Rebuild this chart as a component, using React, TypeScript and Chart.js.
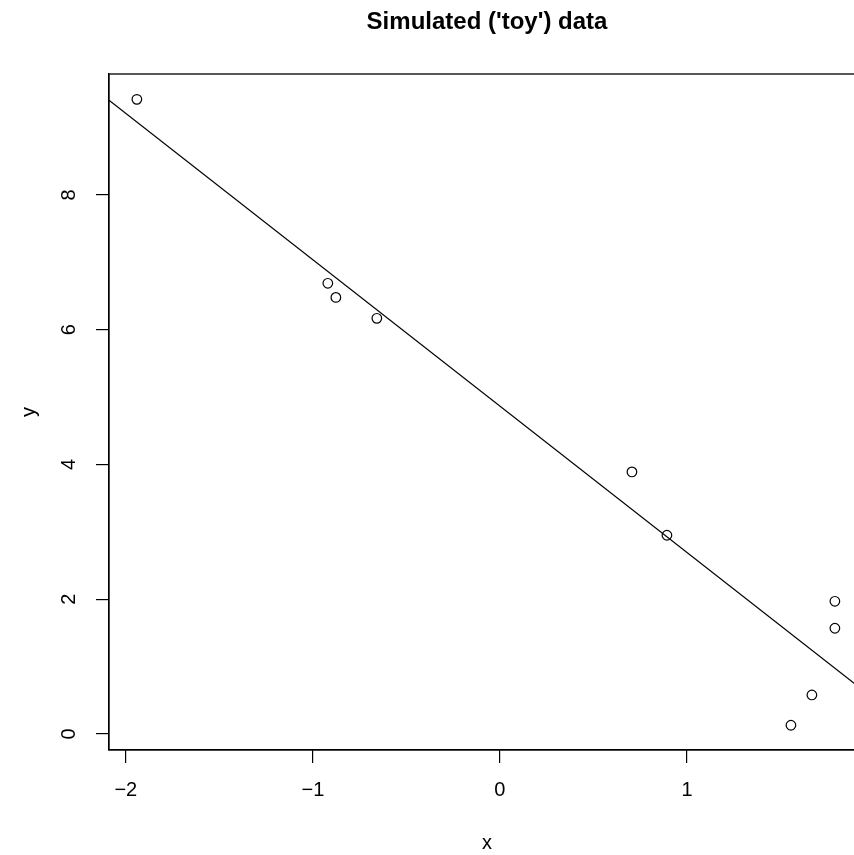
import { useEffect, useRef } from "react";
import { Chart, registerables } from "chart.js";

Chart.register(...registerables);

const xValues = [-1.941, -0.92, -0.877, -0.658, 0.706, 0.893, 1.791, 1.791, 1.668, 1.556];
const yValues = [9.42, 6.69, 6.48, 6.17, 3.89, 2.95, 1.97, 1.57, 0.58, 0.13];

// Fitted regression line y = intercept + slope * x
const intercept = 4.868;
const slope = -2.172;

// Tick values
const xTicks = [-2, -1, 0, 1];
const yTicks = [0, 2, 4, 6, 8];

// Axis ranges
const X_MIN = -2.09;
const X_MAX = 1.952;
const Y_MIN = -0.237;
const Y_MAX = 9.796;

const FAMILY = "'Liberation Sans', Arial, Helvetica, sans-serif";

const fmt = (v: number) => (v < 0 ? "\u2212" + Math.abs(v) : String(v));

export default function App() {
  const ref = useRef<HTMLCanvasElement>(null);

  useEffect(() => {
    const canvas = ref.current;
    if (!canvas) return;

    const points = xValues.map((x, i) => ({ x, y: yValues[i] }));
    const fitLine = [X_MIN, X_MAX].map((x) => ({ x, y: intercept + slope * x }));

    const boxPlugin = {
      id: "plotBox",
      afterDatasetsDraw(chart: any) {
        const { ctx, chartArea: a } = chart;
        ctx.save();
        ctx.strokeStyle = "#000";
        ctx.lineWidth = 1.3;
        ctx.strokeRect(a.left, a.top, a.right - a.left, a.bottom - a.top);
        ctx.restore();
      },
    };

    const tickFont = { family: FAMILY, size: 20 };

    const chart = new Chart(canvas, {
      type: "scatter",
      data: {
        datasets: [
          {
            type: "line",
            data: fitLine,
            borderColor: "#000",
            borderWidth: 1.2,
            pointRadius: 0,
            fill: false,
            tension: 0,
          } as any,
          {
            type: "scatter",
            data: points,
            pointStyle: "circle",
            pointRadius: 4.8,
            borderColor: "#000",
            backgroundColor: "rgba(0,0,0,0)",
            borderWidth: 1.2,
          } as any,
        ],
      },
      options: {
        animation: false,
        responsive: false,
        devicePixelRatio: 1,
        layout: { padding: { left: 0, right: 15, top: 0, bottom: 0 } },
        plugins: {
          legend: { display: false },
          tooltip: { enabled: false },
          title: {
            display: true,
            text: "Simulated ('toy') data",
            fullSize: false,
            color: "#000",
            font: { family: FAMILY, size: 24, weight: "bold" },
            padding: { top: 7.6, bottom: 37.6 },
          },
        },
        scales: {
          x: {
            type: "linear",
            position: "bottom",
            min: X_MIN,
            max: X_MAX,
            afterBuildTicks: (s: any) => {
              s.ticks = xTicks.map((v) => ({ value: v }));
            },
            afterFit: (s: any) => {
              s.height = 105;
            },
            grid: {
              display: true,
              drawOnChartArea: false,
              drawTicks: true,
              tickLength: 13,
              color: "#000",
              lineWidth: 1.2,
            },
            border: { display: true, color: "#000", width: 1.2 },
            ticks: {
              padding: 15,
              color: "#000",
              font: tickFont,
              autoSkip: false,
              maxRotation: 0,
              callback: (v: any) => fmt(Number(v)),
            },
            title: {
              display: true,
              text: "x",
              color: "#000",
              font: tickFont,
              padding: { top: 0, bottom: 0 },
            },
          },
          y: {
            type: "linear",
            position: "left",
            min: Y_MIN,
            max: Y_MAX,
            afterBuildTicks: (s: any) => {
              s.ticks = yTicks.map((v) => ({ value: v }));
            },
            afterFit: (s: any) => {
              s.width = 109;
            },
            grid: {
              display: true,
              drawOnChartArea: false,
              drawTicks: true,
              tickLength: 13,
              color: "#000",
              lineWidth: 1.2,
            },
            border: { display: true, color: "#000", width: 1.2 },
            ticks: {
              padding: 21,
              color: "#000",
              font: tickFont,
              autoSkip: false,
              minRotation: 90,
              maxRotation: 90,
              crossAlign: "center",
              callback: (v: any) => fmt(Number(v)),
            },
            title: {
              display: true,
              text: "y",
              color: "#000",
              font: tickFont,
              padding: { top: 17, bottom: 0 },
            },
          },
        },
      } as any,
      plugins: [boxPlugin],
    });

    return () => chart.destroy();
  }, []);

  return (
    <div
      style={{
        position: "fixed",
        left: 0,
        top: 0,
        width: 854,
        height: 855,
        overflow: "hidden",
        background: "#fff",
      }}
    >
      <canvas
        ref={ref}
        width={880}
        height={855}
        style={{ display: "block", width: 880, height: 855 }}
      />
    </div>
  );
}
